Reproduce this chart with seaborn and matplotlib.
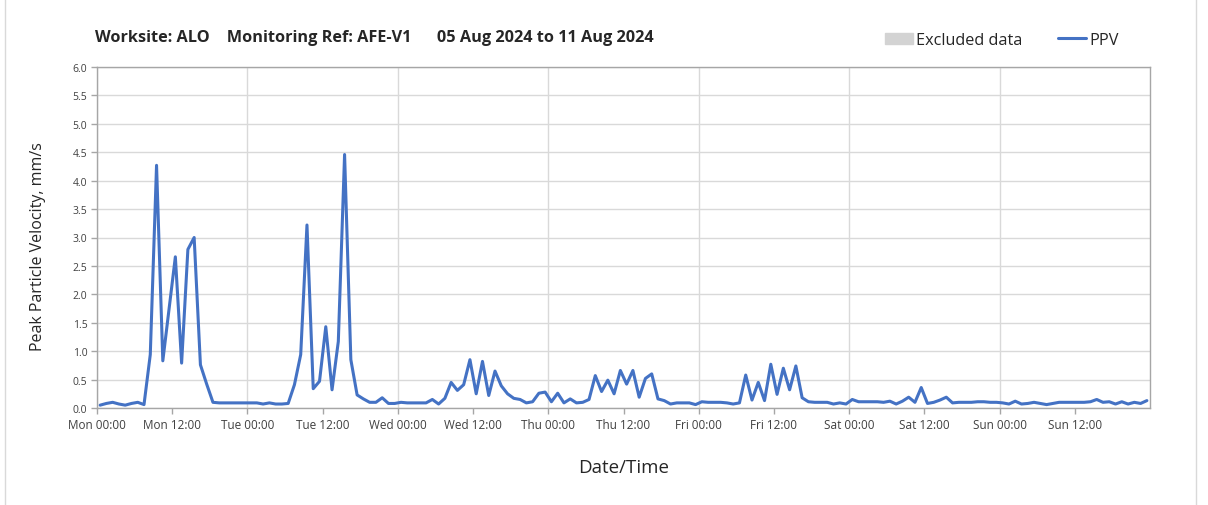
import numpy as np
import pandas as pd
import matplotlib
matplotlib.use("Agg")
import matplotlib.pyplot as plt
import matplotlib.dates as mdates
from matplotlib.ticker import MultipleLocator, FormatStrFormatter
from matplotlib.patches import Patch
from matplotlib.lines import Line2D
import seaborn as sns

sns.set_theme(style="white")
plt.rcParams['font.family'] = ['Open Sans', 'DejaVu Sans']

# hourly PPV readings, Mon 05 Aug 2024 -> Sun 11 Aug 2024 (mm/s)
ppv = [
    0.05, 0.08, 0.10, 0.07, 0.05, 0.08, 0.10, 0.06, 0.94, 4.27, 0.83, 1.75,
    2.66, 0.79, 2.79, 3.00, 0.76, 0.42, 0.10, 0.09, 0.09, 0.09, 0.09, 0.09,
    0.09, 0.09, 0.07, 0.09, 0.07, 0.07, 0.08, 0.41, 0.94, 3.22, 0.34, 0.47,
    1.43, 0.32, 1.17, 4.46, 0.85, 0.23, 0.16, 0.10, 0.10, 0.18, 0.08, 0.08,
    0.10, 0.09, 0.09, 0.09, 0.09, 0.15, 0.07, 0.17, 0.45, 0.31, 0.41, 0.85,
    0.25, 0.82, 0.22, 0.65, 0.39, 0.25, 0.17, 0.15, 0.09, 0.11, 0.26, 0.28,
    0.11, 0.26, 0.09, 0.16, 0.09, 0.10, 0.15, 0.57, 0.29, 0.49, 0.25, 0.66,
    0.42, 0.66, 0.19, 0.52, 0.60, 0.16, 0.13, 0.07, 0.09, 0.09, 0.09, 0.06,
    0.11, 0.10, 0.10, 0.10, 0.09, 0.07, 0.09, 0.58, 0.14, 0.45, 0.13, 0.77,
    0.24, 0.70, 0.32, 0.74, 0.18, 0.11, 0.10, 0.10, 0.10, 0.07, 0.09, 0.07,
    0.15, 0.11, 0.11, 0.11, 0.11, 0.10, 0.12, 0.07, 0.12, 0.19, 0.10, 0.36,
    0.08, 0.10, 0.14, 0.19, 0.09, 0.10, 0.10, 0.10, 0.11, 0.11, 0.10, 0.10,
    0.09, 0.07, 0.12, 0.07, 0.08, 0.10, 0.08, 0.06, 0.08, 0.10, 0.10, 0.10,
    0.10, 0.10, 0.11, 0.15, 0.10, 0.11, 0.07, 0.11, 0.07, 0.10, 0.08, 0.13,
]
start = "2024-08-05 00:00"
end = "2024-08-12 00:00"
times = pd.date_range("2024-08-05 00:30", periods=len(ppv), freq="h")
df = pd.DataFrame({"Date/Time": times, "PPV": ppv})

title = "Worksite: ALO    Monitoring Ref: AFE-V1      05 Aug 2024 to 11 Aug 2024"
blue = "#4472C4"
grey = "#a6a6a6"

fig = plt.figure(figsize=(12.08, 5.06), dpi=100)
ax = fig.add_axes([97 / 1208, 1 - 409 / 506, 1053 / 1208, 341 / 506])

sns.lineplot(data=df, x="Date/Time", y="PPV", color=blue, lw=2.2, ax=ax, legend=False)

ax.set_xlim(pd.Timestamp(start), pd.Timestamp(end))
ax.set_ylim(0, 6)
ax.yaxis.set_major_locator(MultipleLocator(0.5))
ax.yaxis.set_major_formatter(FormatStrFormatter("%.1f"))

days = pd.date_range(start, periods=7, freq="D")
ax.set_xticks(mdates.date2num(days))
ax.set_xticks(mdates.date2num(days + pd.Timedelta(hours=12)), minor=True)
fmt = mdates.DateFormatter("%a %H:%M")
ax.xaxis.set_major_formatter(fmt)
ax.xaxis.set_minor_formatter(fmt)

ax.grid(axis="y", color="#d9d9d9", lw=1)
ax.grid(axis="x", which="major", color="#d9d9d9", lw=1)
for s in ax.spines.values():
    s.set_color(grey)
    s.set_linewidth(1)
ax.tick_params(axis="both", which="both", direction="out", length=4, width=1,
               color=grey, labelcolor="#404040")
ax.tick_params(axis="x", which="both", labelsize=8.5, pad=3, bottom=True)
ax.tick_params(axis="y", labelsize=7.5, pad=3, left=True)

ax.set_xlabel("Date/Time", fontsize=13.5, color="#262626", labelpad=20)
ax.set_ylabel("Peak Particle Velocity, mm/s", fontsize=11.5, color="#262626")
ax.yaxis.set_label_coords(-0.048, 0.475)

fig.text(95 / 1208, 1 - 38 / 506, title, fontsize=11.7, weight="bold", va="center", ha="left")

handles = [Patch(color="#d3d3d3"), Line2D([], [], color=blue, lw=2.2)]
fig.legend(handles, ["Excluded data", "PPV"], ncol=2, loc="center",
           bbox_to_anchor=(1002 / 1208, 1 - 41 / 506), frameon=False, fontsize=11.7,
           handlelength=1.7, handletextpad=0.2, columnspacing=2.2)

# outer chart frame edges
for xf in (5 / 1208, 1196 / 1208):
    fig.add_artist(Line2D([xf, xf], [0, 1], transform=fig.transFigure, color="#d9d9d9", lw=1))

fig.savefig("out.png", dpi=100)
